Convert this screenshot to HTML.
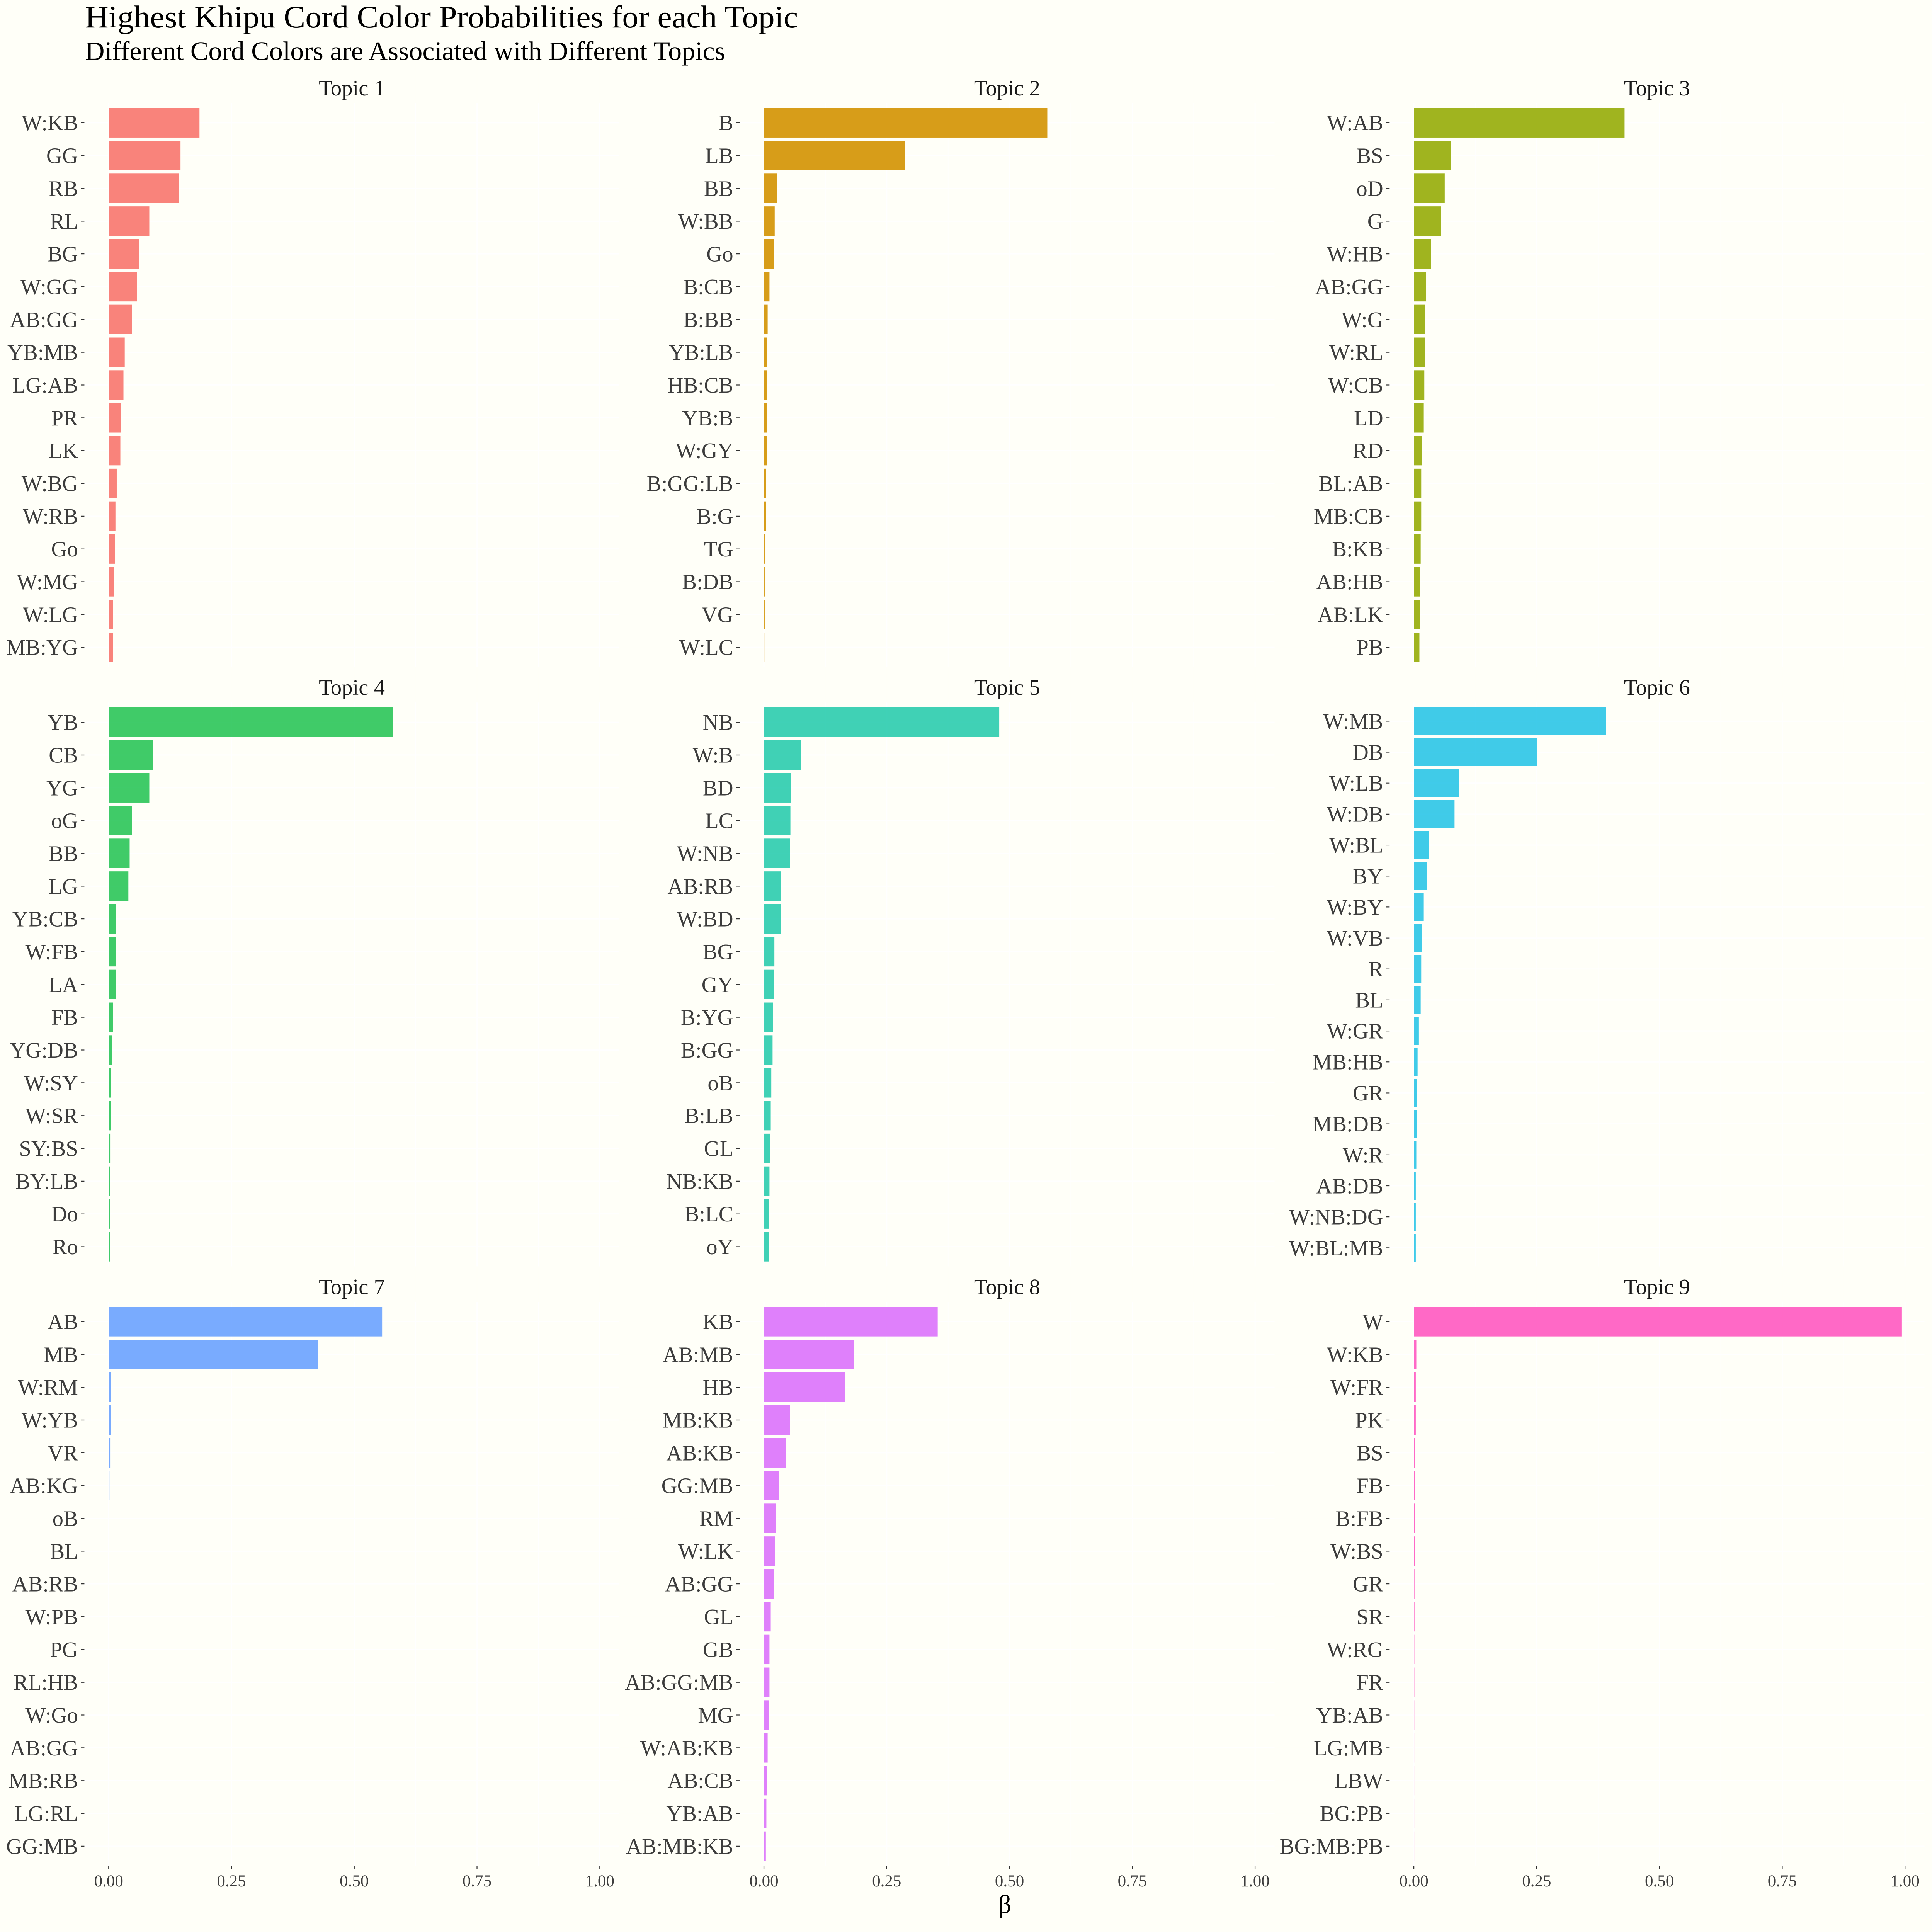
<!DOCTYPE html>
<html><head><meta charset="utf-8"><style>
html,body{margin:0;padding:0;background:#fffff8;width:100%;height:100%;overflow:hidden}
svg{display:block;width:100vw;height:100vh}
.yl{font-family:"Liberation Serif",serif;font-size:17.8px;fill:#3d3d3d;text-anchor:end}
.st{font-family:"Liberation Serif",serif;font-size:17.8px;fill:#1a1a1a;text-anchor:middle}
.xl{font-family:"Liberation Serif",serif;font-size:13.5px;fill:#3d3d3d;text-anchor:middle}
</style></head><body>
<svg xmlns="http://www.w3.org/2000/svg" xmlns:xlink="http://www.w3.org/1999/xlink" viewBox="0 0 1568 1568" preserveAspectRatio="xMidYMid meet">
<defs>
<g id="vg">
<path d="M0 0V457.6M99.65 0V457.6M199.3 0V457.6M298.95 0V457.6M398.6 0V457.6" stroke="#fff" stroke-width=".9" fill="none"/>
<path d="M49.83 0V457.6M149.48 0V457.6M249.13 0V457.6M348.78 0V457.6" stroke="#fff" stroke-width=".55" fill="none"/>
</g>
<g id="g17">
<use xlink:href="#vg"/>
<path d="M-19.7 15.96H414.4M-19.7 42.57H414.4M-19.7 69.17H414.4M-19.7 95.78H414.4M-19.7 122.38H414.4M-19.7 148.99H414.4M-19.7 175.59H414.4M-19.7 202.2H414.4M-19.7 228.8H414.4M-19.7 255.41H414.4M-19.7 282.01H414.4M-19.7 308.62H414.4M-19.7 335.22H414.4M-19.7 361.83H414.4M-19.7 388.43H414.4M-19.7 415.04H414.4M-19.7 441.64H414.4" stroke="#fff" stroke-width=".9" fill="none"/>
<path d="M-22.4 15.96H-19.7M-22.4 42.57H-19.7M-22.4 69.17H-19.7M-22.4 95.78H-19.7M-22.4 122.38H-19.7M-22.4 148.99H-19.7M-22.4 175.59H-19.7M-22.4 202.2H-19.7M-22.4 228.8H-19.7M-22.4 255.41H-19.7M-22.4 282.01H-19.7M-22.4 308.62H-19.7M-22.4 335.22H-19.7M-22.4 361.83H-19.7M-22.4 388.43H-19.7M-22.4 415.04H-19.7M-22.4 441.64H-19.7" stroke="#333" stroke-width=".7" fill="none"/>
</g>
<g id="g18">
<use xlink:href="#vg"/>
<path d="M-19.7 15.09H414.4M-19.7 40.23H414.4M-19.7 65.37H414.4M-19.7 90.52H414.4M-19.7 115.66H414.4M-19.7 140.8H414.4M-19.7 165.94H414.4M-19.7 191.09H414.4M-19.7 216.23H414.4M-19.7 241.37H414.4M-19.7 266.52H414.4M-19.7 291.66H414.4M-19.7 316.8H414.4M-19.7 341.94H414.4M-19.7 367.09H414.4M-19.7 392.23H414.4M-19.7 417.37H414.4M-19.7 442.51H414.4" stroke="#fff" stroke-width=".9" fill="none"/>
<path d="M-22.4 15.09H-19.7M-22.4 40.23H-19.7M-22.4 65.37H-19.7M-22.4 90.52H-19.7M-22.4 115.66H-19.7M-22.4 140.8H-19.7M-22.4 165.94H-19.7M-22.4 191.09H-19.7M-22.4 216.23H-19.7M-22.4 241.37H-19.7M-22.4 266.52H-19.7M-22.4 291.66H-19.7M-22.4 316.8H-19.7M-22.4 341.94H-19.7M-22.4 367.09H-19.7M-22.4 392.23H-19.7M-22.4 417.37H-19.7M-22.4 442.51H-19.7" stroke="#333" stroke-width=".7" fill="none"/>
</g>
<path id="xt" d="M0 457.6V460.3M99.65 457.6V460.3M199.3 457.6V460.3M298.95 457.6V460.3M398.6 457.6V460.3" stroke="#333" stroke-width=".7" fill="none"/>
</defs>
<rect x="0" y="0" width="1568" height="1568" fill="#fffff8"/>

<text x="69" y="22.2" font-family="Liberation Serif, serif" font-size="25.5" fill="#000" textLength="578.7" lengthAdjust="spacingAndGlyphs">Highest Khipu Cord Color Probabilities for each Topic</text>
<text x="69" y="48.6" font-family="Liberation Serif, serif" font-size="21.5" fill="#000" textLength="519.6" lengthAdjust="spacingAndGlyphs">Different Cord Colors are Associated with Different Topics</text>

<!-- Topic 1 -->
<g transform="translate(88.2,83.7)">
<use xlink:href="#g17"/>
<text class="st" x="197.35" y="-6.3">Topic 1</text>
<g fill="#F8766D" fill-opacity=".9">
<rect y="3.99" width="73.7" height="23.94"/><rect y="30.6" width="58.3" height="23.94"/><rect y="57.2" width="56.7" height="23.94"/><rect y="83.81" width="33" height="23.94"/><rect y="110.41" width="25" height="23.94"/><rect y="137.02" width="23" height="23.94"/><rect y="163.62" width="19" height="23.94"/><rect y="190.23" width="13" height="23.94"/><rect y="216.83" width="12" height="23.94"/><rect y="243.44" width="10" height="23.94"/><rect y="270.04" width="9.5" height="23.94"/><rect y="296.65" width="6.5" height="23.94"/><rect y="323.25" width="5.5" height="23.94"/><rect y="349.86" width="5" height="23.94"/><rect y="376.46" width="4" height="23.94"/><rect y="403.07" width="3.5" height="23.94"/><rect y="429.67" width="3.5" height="23.94"/>
</g>
<text class="yl" x="-24.9" y="22.06">W:KB</text><text class="yl" x="-24.9" y="48.67">GG</text><text class="yl" x="-24.9" y="75.27">RB</text><text class="yl" x="-24.9" y="101.88">RL</text><text class="yl" x="-24.9" y="128.48">BG</text><text class="yl" x="-24.9" y="155.09">W:GG</text><text class="yl" x="-24.9" y="181.69">AB:GG</text><text class="yl" x="-24.9" y="208.3">YB:MB</text><text class="yl" x="-24.9" y="234.9">LG:AB</text><text class="yl" x="-24.9" y="261.51">PR</text><text class="yl" x="-24.9" y="288.11">LK</text><text class="yl" x="-24.9" y="314.72">W:BG</text><text class="yl" x="-24.9" y="341.32">W:RB</text><text class="yl" x="-24.9" y="367.93">Go</text><text class="yl" x="-24.9" y="394.53">W:MG</text><text class="yl" x="-24.9" y="421.14">W:LG</text><text class="yl" x="-24.9" y="447.74">MB:YG</text>
</g>

<!-- Topic 2 -->
<g transform="translate(620,83.7)">
<use xlink:href="#g17"/>
<text class="st" x="197.35" y="-6.3">Topic 2</text>
<g fill="#D39200" fill-opacity=".9">
<rect y="3.99" width="230" height="23.94"/><rect y="30.6" width="114.3" height="23.94"/><rect y="57.2" width="10.4" height="23.94"/><rect y="83.81" width="8.7" height="23.94"/><rect y="110.41" width="8.1" height="23.94"/><rect y="137.02" width="4.5" height="23.94"/><rect y="163.62" width="3" height="23.94"/><rect y="190.23" width="2.8" height="23.94"/><rect y="216.83" width="2.5" height="23.94"/><rect y="243.44" width="2.4" height="23.94"/><rect y="270.04" width="2.3" height="23.94"/><rect y="296.65" width="1.74" height="23.94"/><rect y="323.25" width="1.56" height="23.94"/><rect y="349.86" width="0.61" height="23.94"/><rect y="376.46" width="0.6" height="23.94"/><rect y="403.07" width="0.6" height="23.94"/><rect y="429.67" width="0.35" height="23.94"/>
</g>
<text class="yl" x="-24.9" y="22.06">B</text><text class="yl" x="-24.9" y="48.67">LB</text><text class="yl" x="-24.9" y="75.27">BB</text><text class="yl" x="-24.9" y="101.88">W:BB</text><text class="yl" x="-24.9" y="128.48">Go</text><text class="yl" x="-24.9" y="155.09">B:CB</text><text class="yl" x="-24.9" y="181.69">B:BB</text><text class="yl" x="-24.9" y="208.3">YB:LB</text><text class="yl" x="-24.9" y="234.9">HB:CB</text><text class="yl" x="-24.9" y="261.51">YB:B</text><text class="yl" x="-24.9" y="288.11">W:GY</text><text class="yl" x="-24.9" y="314.72">B:GG:LB</text><text class="yl" x="-24.9" y="341.32">B:G</text><text class="yl" x="-24.9" y="367.93">TG</text><text class="yl" x="-24.9" y="394.53">B:DB</text><text class="yl" x="-24.9" y="421.14">VG</text><text class="yl" x="-24.9" y="447.74">W:LC</text>
</g>

<!-- Topic 3 -->
<g transform="translate(1147.5,83.7)">
<use xlink:href="#g17"/>
<text class="st" x="197.35" y="-6.3">Topic 3</text>
<g fill="#93AA00" fill-opacity=".88">
<rect y="3.99" width="171" height="23.94"/><rect y="30.6" width="30" height="23.94"/><rect y="57.2" width="25" height="23.94"/><rect y="83.81" width="22" height="23.94"/><rect y="110.41" width="14" height="23.94"/><rect y="137.02" width="10" height="23.94"/><rect y="163.62" width="9" height="23.94"/><rect y="190.23" width="9" height="23.94"/><rect y="216.83" width="8.5" height="23.94"/><rect y="243.44" width="8" height="23.94"/><rect y="270.04" width="6.5" height="23.94"/><rect y="296.65" width="6" height="23.94"/><rect y="323.25" width="6" height="23.94"/><rect y="349.86" width="5.5" height="23.94"/><rect y="376.46" width="5" height="23.94"/><rect y="403.07" width="5" height="23.94"/><rect y="429.67" width="4.5" height="23.94"/>
</g>
<text class="yl" x="-24.9" y="22.06">W:AB</text><text class="yl" x="-24.9" y="48.67">BS</text><text class="yl" x="-24.9" y="75.27">oD</text><text class="yl" x="-24.9" y="101.88">G</text><text class="yl" x="-24.9" y="128.48">W:HB</text><text class="yl" x="-24.9" y="155.09">AB:GG</text><text class="yl" x="-24.9" y="181.69">W:G</text><text class="yl" x="-24.9" y="208.3">W:RL</text><text class="yl" x="-24.9" y="234.9">W:CB</text><text class="yl" x="-24.9" y="261.51">LD</text><text class="yl" x="-24.9" y="288.11">RD</text><text class="yl" x="-24.9" y="314.72">BL:AB</text><text class="yl" x="-24.9" y="341.32">MB:CB</text><text class="yl" x="-24.9" y="367.93">B:KB</text><text class="yl" x="-24.9" y="394.53">AB:HB</text><text class="yl" x="-24.9" y="421.14">AB:LK</text><text class="yl" x="-24.9" y="447.74">PB</text>
</g>

<!-- Topic 4 -->
<g transform="translate(88.2,570.2)">
<use xlink:href="#g17"/>
<text class="st" x="197.35" y="-6.3">Topic 4</text>
<g fill="#00BA38" fill-opacity=".75">
<rect y="3.99" width="231" height="23.94"/><rect y="30.6" width="36" height="23.94"/><rect y="57.2" width="33" height="23.94"/><rect y="83.81" width="19" height="23.94"/><rect y="110.41" width="17" height="23.94"/><rect y="137.02" width="16" height="23.94"/><rect y="163.62" width="6" height="23.94"/><rect y="190.23" width="6" height="23.94"/><rect y="216.83" width="6" height="23.94"/><rect y="243.44" width="3.5" height="23.94"/><rect y="270.04" width="3" height="23.94"/><rect y="296.65" width="1.5" height="23.94"/><rect y="323.25" width="1.5" height="23.94"/><rect y="349.86" width="1.2" height="23.94"/><rect y="376.46" width="1.1" height="23.94"/><rect y="403.07" width="1" height="23.94"/><rect y="429.67" width="1" height="23.94"/>
</g>
<text class="yl" x="-24.9" y="22.06">YB</text><text class="yl" x="-24.9" y="48.67">CB</text><text class="yl" x="-24.9" y="75.27">YG</text><text class="yl" x="-24.9" y="101.88">oG</text><text class="yl" x="-24.9" y="128.48">BB</text><text class="yl" x="-24.9" y="155.09">LG</text><text class="yl" x="-24.9" y="181.69">YB:CB</text><text class="yl" x="-24.9" y="208.3">W:FB</text><text class="yl" x="-24.9" y="234.9">LA</text><text class="yl" x="-24.9" y="261.51">FB</text><text class="yl" x="-24.9" y="288.11">YG:DB</text><text class="yl" x="-24.9" y="314.72">W:SY</text><text class="yl" x="-24.9" y="341.32">W:SR</text><text class="yl" x="-24.9" y="367.93">SY:BS</text><text class="yl" x="-24.9" y="394.53">BY:LB</text><text class="yl" x="-24.9" y="421.14">Do</text><text class="yl" x="-24.9" y="447.74">Ro</text>
</g>

<!-- Topic 5 -->
<g transform="translate(620,570.2)">
<use xlink:href="#g17"/>
<text class="st" x="197.35" y="-6.3">Topic 5</text>
<g fill="#00C19F" fill-opacity=".75">
<rect y="3.99" width="191" height="23.94"/><rect y="30.6" width="30" height="23.94"/><rect y="57.2" width="22" height="23.94"/><rect y="83.81" width="21.5" height="23.94"/><rect y="110.41" width="21" height="23.94"/><rect y="137.02" width="14" height="23.94"/><rect y="163.62" width="13.5" height="23.94"/><rect y="190.23" width="8.5" height="23.94"/><rect y="216.83" width="8" height="23.94"/><rect y="243.44" width="7.5" height="23.94"/><rect y="270.04" width="7" height="23.94"/><rect y="296.65" width="6" height="23.94"/><rect y="323.25" width="5.5" height="23.94"/><rect y="349.86" width="5" height="23.94"/><rect y="376.46" width="4.5" height="23.94"/><rect y="403.07" width="4" height="23.94"/><rect y="429.67" width="4" height="23.94"/>
</g>
<text class="yl" x="-24.9" y="22.06">NB</text><text class="yl" x="-24.9" y="48.67">W:B</text><text class="yl" x="-24.9" y="75.27">BD</text><text class="yl" x="-24.9" y="101.88">LC</text><text class="yl" x="-24.9" y="128.48">W:NB</text><text class="yl" x="-24.9" y="155.09">AB:RB</text><text class="yl" x="-24.9" y="181.69">W:BD</text><text class="yl" x="-24.9" y="208.3">BG</text><text class="yl" x="-24.9" y="234.9">GY</text><text class="yl" x="-24.9" y="261.51">B:YG</text><text class="yl" x="-24.9" y="288.11">B:GG</text><text class="yl" x="-24.9" y="314.72">oB</text><text class="yl" x="-24.9" y="341.32">B:LB</text><text class="yl" x="-24.9" y="367.93">GL</text><text class="yl" x="-24.9" y="394.53">NB:KB</text><text class="yl" x="-24.9" y="421.14">B:LC</text><text class="yl" x="-24.9" y="447.74">oY</text>
</g>

<!-- Topic 6 (18 items) -->
<g transform="translate(1147.5,570.2)">
<use xlink:href="#g18"/>
<text class="st" x="197.35" y="-6.3">Topic 6</text>
<g fill="#00B9E3" fill-opacity=".75">
<rect y="3.77" width="156" height="22.63"/><rect y="28.92" width="100" height="22.63"/><rect y="54.06" width="36.5" height="22.63"/><rect y="79.21" width="33" height="22.63"/><rect y="104.35" width="12" height="22.63"/><rect y="129.49" width="10.5" height="22.63"/><rect y="154.63" width="8" height="22.63"/><rect y="179.78" width="6.5" height="22.63"/><rect y="204.92" width="6" height="22.63"/><rect y="230.06" width="5.5" height="22.63"/><rect y="255.21" width="4" height="22.63"/><rect y="280.35" width="3" height="22.63"/><rect y="305.49" width="2.5" height="22.63"/><rect y="330.63" width="2.5" height="22.63"/><rect y="355.78" width="2" height="22.63"/><rect y="380.92" width="1.5" height="22.63"/><rect y="406.06" width="1.5" height="22.63"/><rect y="431.2" width="1.5" height="22.63"/>
</g>
<text class="yl" x="-24.9" y="21.19">W:MB</text><text class="yl" x="-24.9" y="46.33">DB</text><text class="yl" x="-24.9" y="71.47">W:LB</text><text class="yl" x="-24.9" y="96.62">W:DB</text><text class="yl" x="-24.9" y="121.76">W:BL</text><text class="yl" x="-24.9" y="146.9">BY</text><text class="yl" x="-24.9" y="172.04">W:BY</text><text class="yl" x="-24.9" y="197.19">W:VB</text><text class="yl" x="-24.9" y="222.33">R</text><text class="yl" x="-24.9" y="247.47">BL</text><text class="yl" x="-24.9" y="272.62">W:GR</text><text class="yl" x="-24.9" y="297.76">MB:HB</text><text class="yl" x="-24.9" y="322.9">GR</text><text class="yl" x="-24.9" y="348.04">MB:DB</text><text class="yl" x="-24.9" y="373.19">W:R</text><text class="yl" x="-24.9" y="398.33">AB:DB</text><text class="yl" x="-24.9" y="423.47">W:NB:DG</text><text class="yl" x="-24.9" y="448.61">W:BL:MB</text>
</g>

<!-- Topic 7 -->
<g transform="translate(88.2,1056.7)">
<use xlink:href="#g17"/>
<use xlink:href="#xt"/>
<text class="st" x="197.35" y="-6.3">Topic 7</text>
<g fill="#619CFF" fill-opacity=".85">
<rect y="3.99" width="222" height="23.94"/><rect y="30.6" width="170" height="23.94"/><rect y="57.2" width="1.5" height="23.94"/><rect y="83.81" width="1.5" height="23.94"/><rect y="110.41" width="1.2" height="23.94"/><rect y="137.02" width="0.6" height="23.94"/><rect y="163.62" width="0.5" height="23.94"/><rect y="190.23" width="0.45" height="23.94"/><rect y="216.83" width="0.4" height="23.94"/><rect y="243.44" width="0.4" height="23.94"/><rect y="270.04" width="0.35" height="23.94"/><rect y="296.65" width="0.3" height="23.94"/><rect y="323.25" width="0.3" height="23.94"/><rect y="349.86" width="0.3" height="23.94"/><rect y="376.46" width="0.3" height="23.94"/><rect y="403.07" width="0.25" height="23.94"/><rect y="429.67" width="0.25" height="23.94"/>
</g>
<text class="yl" x="-24.9" y="22.06">AB</text><text class="yl" x="-24.9" y="48.67">MB</text><text class="yl" x="-24.9" y="75.27">W:RM</text><text class="yl" x="-24.9" y="101.88">W:YB</text><text class="yl" x="-24.9" y="128.48">VR</text><text class="yl" x="-24.9" y="155.09">AB:KG</text><text class="yl" x="-24.9" y="181.69">oB</text><text class="yl" x="-24.9" y="208.3">BL</text><text class="yl" x="-24.9" y="234.9">AB:RB</text><text class="yl" x="-24.9" y="261.51">W:PB</text><text class="yl" x="-24.9" y="288.11">PG</text><text class="yl" x="-24.9" y="314.72">RL:HB</text><text class="yl" x="-24.9" y="341.32">W:Go</text><text class="yl" x="-24.9" y="367.93">AB:GG</text><text class="yl" x="-24.9" y="394.53">MB:RB</text><text class="yl" x="-24.9" y="421.14">LG:RL</text><text class="yl" x="-24.9" y="447.74">GG:MB</text>
<text class="xl" x="0" y="474.3">0.00</text><text class="xl" x="99.65" y="474.3">0.25</text><text class="xl" x="199.3" y="474.3">0.50</text><text class="xl" x="298.95" y="474.3">0.75</text><text class="xl" x="398.6" y="474.3">1.00</text>
</g>

<!-- Topic 8 -->
<g transform="translate(620,1056.7)">
<use xlink:href="#g17"/>
<use xlink:href="#xt"/>
<text class="st" x="197.35" y="-6.3">Topic 8</text>
<g fill="#DB72FB" fill-opacity=".9">
<rect y="3.99" width="141" height="23.94"/><rect y="30.6" width="73" height="23.94"/><rect y="57.2" width="66" height="23.94"/><rect y="83.81" width="21" height="23.94"/><rect y="110.41" width="18" height="23.94"/><rect y="137.02" width="12" height="23.94"/><rect y="163.62" width="10" height="23.94"/><rect y="190.23" width="9" height="23.94"/><rect y="216.83" width="8" height="23.94"/><rect y="243.44" width="5.5" height="23.94"/><rect y="270.04" width="4.5" height="23.94"/><rect y="296.65" width="4.5" height="23.94"/><rect y="323.25" width="4" height="23.94"/><rect y="349.86" width="3" height="23.94"/><rect y="376.46" width="2.5" height="23.94"/><rect y="403.07" width="2" height="23.94"/><rect y="429.67" width="1.5" height="23.94"/>
</g>
<text class="yl" x="-24.9" y="22.06">KB</text><text class="yl" x="-24.9" y="48.67">AB:MB</text><text class="yl" x="-24.9" y="75.27">HB</text><text class="yl" x="-24.9" y="101.88">MB:KB</text><text class="yl" x="-24.9" y="128.48">AB:KB</text><text class="yl" x="-24.9" y="155.09">GG:MB</text><text class="yl" x="-24.9" y="181.69">RM</text><text class="yl" x="-24.9" y="208.3">W:LK</text><text class="yl" x="-24.9" y="234.9">AB:GG</text><text class="yl" x="-24.9" y="261.51">GL</text><text class="yl" x="-24.9" y="288.11">GB</text><text class="yl" x="-24.9" y="314.72">AB:GG:MB</text><text class="yl" x="-24.9" y="341.32">MG</text><text class="yl" x="-24.9" y="367.93">W:AB:KB</text><text class="yl" x="-24.9" y="394.53">AB:CB</text><text class="yl" x="-24.9" y="421.14">YB:AB</text><text class="yl" x="-24.9" y="447.74">AB:MB:KB</text>
<text class="xl" x="0" y="474.3">0.00</text><text class="xl" x="99.65" y="474.3">0.25</text><text class="xl" x="199.3" y="474.3">0.50</text><text class="xl" x="298.95" y="474.3">0.75</text><text class="xl" x="398.6" y="474.3">1.00</text>
</g>

<!-- Topic 9 -->
<g transform="translate(1147.5,1056.7)">
<use xlink:href="#g17"/>
<use xlink:href="#xt"/>
<text class="st" x="197.35" y="-6.3">Topic 9</text>
<g fill="#FF61C3" fill-opacity=".95">
<rect y="3.99" width="396" height="23.94"/><rect y="30.6" width="2" height="23.94"/><rect y="57.2" width="1.5" height="23.94"/><rect y="83.81" width="1.5" height="23.94"/><rect y="110.41" width="1" height="23.94"/><rect y="137.02" width="0.8" height="23.94"/><rect y="163.62" width="0.7" height="23.94"/><rect y="190.23" width="0.6" height="23.94"/><rect y="216.83" width="0.5" height="23.94"/><rect y="243.44" width="0.5" height="23.94"/><rect y="270.04" width="0.4" height="23.94"/><rect y="296.65" width="0.4" height="23.94"/><rect y="323.25" width="0.35" height="23.94"/><rect y="349.86" width="0.3" height="23.94"/><rect y="376.46" width="0.3" height="23.94"/><rect y="403.07" width="0.3" height="23.94"/><rect y="429.67" width="0.3" height="23.94"/>
</g>
<text class="yl" x="-24.9" y="22.06">W</text><text class="yl" x="-24.9" y="48.67">W:KB</text><text class="yl" x="-24.9" y="75.27">W:FR</text><text class="yl" x="-24.9" y="101.88">PK</text><text class="yl" x="-24.9" y="128.48">BS</text><text class="yl" x="-24.9" y="155.09">FB</text><text class="yl" x="-24.9" y="181.69">B:FB</text><text class="yl" x="-24.9" y="208.3">W:BS</text><text class="yl" x="-24.9" y="234.9">GR</text><text class="yl" x="-24.9" y="261.51">SR</text><text class="yl" x="-24.9" y="288.11">W:RG</text><text class="yl" x="-24.9" y="314.72">FR</text><text class="yl" x="-24.9" y="341.32">YB:AB</text><text class="yl" x="-24.9" y="367.93">LG:MB</text><text class="yl" x="-24.9" y="394.53">LBW</text><text class="yl" x="-24.9" y="421.14">BG:PB</text><text class="yl" x="-24.9" y="447.74">BG:MB:PB</text>
<text class="xl" x="0" y="474.3">0.00</text><text class="xl" x="99.65" y="474.3">0.25</text><text class="xl" x="199.3" y="474.3">0.50</text><text class="xl" x="298.95" y="474.3">0.75</text><text class="xl" x="398.6" y="474.3">1.00</text>
</g>

<text x="815.4" y="1552.5" font-family="Liberation Serif, serif" font-size="21" fill="#000" text-anchor="middle">β</text>
</svg>
</body></html>
